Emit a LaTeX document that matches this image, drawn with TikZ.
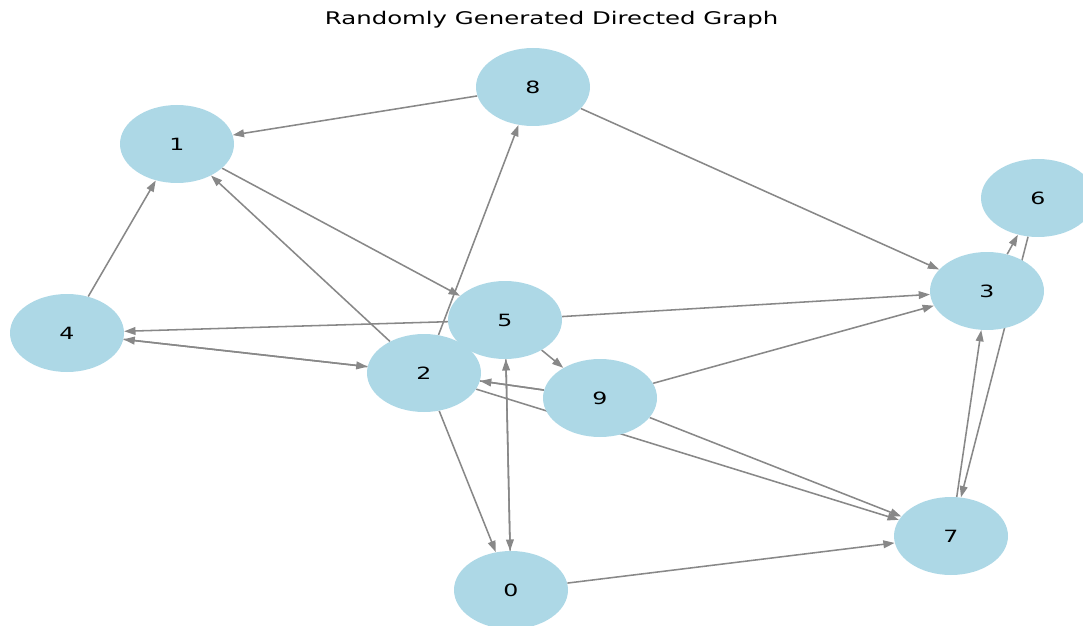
\documentclass[tikz,border=0pt]{standalone}
\usepackage{fontspec}
\setmainfont{DejaVu Sans}
\newfontfamily\widefont[FakeStretch=1.4]{DejaVu Sans}
\usetikzlibrary{arrows.meta,shapes.geometric,backgrounds}
\definecolor{nodeblue}{HTML}{ADD8E6}
\definecolor{edgegray}{HTML}{888888}
\tikzstyle{vertex}=[ellipse,fill=nodeblue,minimum width=2.85cm,minimum height=1.95cm,inner sep=0pt,font=\widefont\fontsize{12}{14}\selectfont]
\tikzstyle{edge} = [draw,line width=1.1pt,edgegray,-{Triangle[length=8pt,width=5.5pt]}]
\tikzstyle{undirectededge} = [draw,line width=1.1pt,edgegray]
\tikzstyle{title} = [font=\widefont\fontsize{12.4}{14}\selectfont]

\begin{document}
\begin{tikzpicture}
    \useasboundingbox (0,0) rectangle (27.075,-15.65);

    \node[title] (caption) at (13.79,-0.5) {Randomly Generated Directed Graph};

    \foreach \pos/\name/\label in {{(13.325,-2.175)/n8/8}, {(4.425,-3.6)/n1/1}, {(25.95,-4.95)/n6/6}, {(24.675,-7.275)/n3/3}, {(1.675,-8.325)/n4/4}, {(12.625,-8.0)/n5/5}, {(10.6,-9.325)/n2/2}, {(15.0,-9.95)/n9/9}, {(23.775,-13.4)/n7/7}, {(12.775,-14.75)/n0/0}}
        \node[vertex] (\name) at \pos {\label};

    \begin{scope}[on background layer]
    \foreach \source/ \dest in {n8/n1, n8/n3, n4/n1, n2/n1, n1/n5, n2/n8, n5/n4, n5/n3, n5/n9, n2/n4, n4/n2, n9/n2, n9/n3, n2/n7, n9/n7, n2/n0, n5/n0, n0/n5, n0/n7, n3/n6, n6/n7, n7/n3}
        \path[edge] (\source) -- (\dest);
    \path[undirectededge] (n2) -- (n9);
    \end{scope}
\end{tikzpicture}
\end{document}
